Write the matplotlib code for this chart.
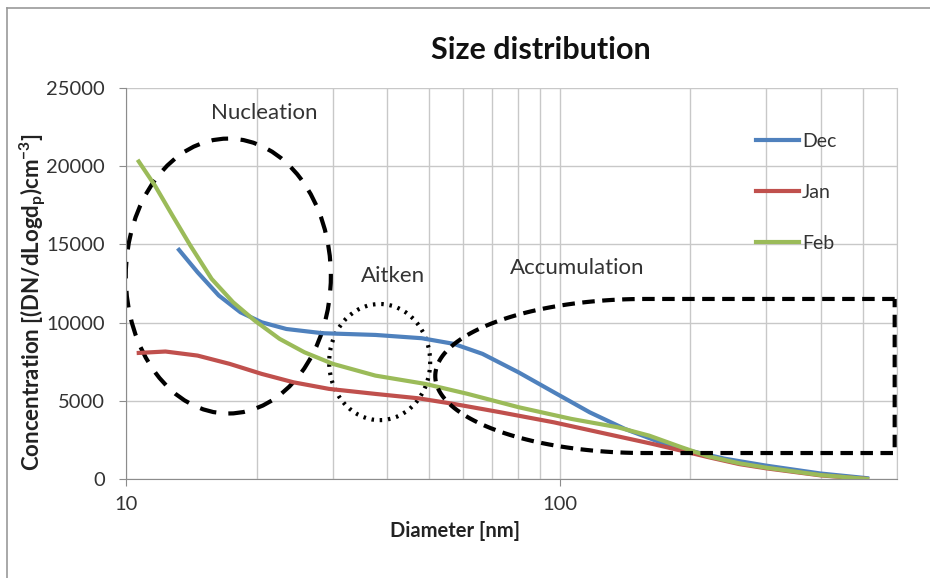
import matplotlib.pyplot as plt
import numpy as np
from matplotlib.patches import Ellipse
from matplotlib.lines import Line2D

plt.rcParams['font.family'] = ['Lato', 'DejaVu Sans']

# values (diameter in nm, concentration)
dec_d = [13.25, 14.62, 16.37, 18.36, 20.55, 23.44, 28.4, 37.6, 48.1, 57.0, 66.4, 80.4, 97.1,
         117.4, 141.5, 170.6, 200, 240, 300, 400, 512]
dec_c = [14650, 13220, 11730, 10660, 10020, 9590, 9320, 9210, 9000, 8640, 8000, 6820, 5540,
         4260, 3200, 2350, 1800, 1300, 850, 350, 50]

jan_d = [10.7, 12.33, 14.62, 17.34, 20.55, 24.35, 29.4, 37.6, 47.2, 57.0, 73.2, 97.1,
         128.5, 164, 191, 220, 260, 300, 400, 512]
jan_c = [8060, 8150, 7890, 7360, 6720, 6180, 5760, 5440, 5160, 4800, 4260, 3620,
         2880, 2240, 1810, 1400, 950, 680, 230, 0]

feb_d = [10.7, 11.66, 12.8, 14.07, 15.76, 17.66, 19.8, 22.6, 25.8, 30.0, 37.6, 49.0, 61.4,
         80.4, 106.5, 136, 161, 191, 220, 260, 300, 400, 512]
feb_c = [20300, 18760, 16840, 14930, 12790, 11300, 10130, 8960, 8100, 7360, 6610, 6080, 5440,
         4590, 3840, 3310, 2770, 2030, 1450, 1000, 720, 250, 0]

fig = plt.figure(figsize=(9.3, 5.78), dpi=100)
ax = fig.add_axes([0.1355, 0.1713, 0.829, 0.6765])

ax.plot(dec_d, dec_c, color='#4F81BD', lw=3, label='Dec')
ax.plot(jan_d, jan_c, color='#C0504D', lw=3, label='Jan')
ax.plot(feb_d, feb_c, color='#9BBB59', lw=3, label='Feb')

ax.set_xscale('log')
ax.set_xlim(10, 600)
ax.set_ylim(0, 25000)
ax.set_yticks(np.arange(0, 25001, 5000))
ax.set_xticks([10, 100])
ax.set_xticklabels(['10', '100'])
ax.xaxis.set_minor_formatter(plt.NullFormatter())
ax.grid(True, which='both', color='#C8C8C8', lw=1)
ax.set_axisbelow(True)
ax.spines['top'].set_visible(False)
ax.spines['right'].set_color('#C8C8C8')
ax.spines['left'].set_color('#8C8C8C')
ax.spines['bottom'].set_color('#8C8C8C')
ax.tick_params(axis='both', which='major', colors='#8C8C8C', labelcolor='#333333',
               labelsize=14.5, length=5, direction='out')
ax.tick_params(axis='x', which='minor', length=0)
ax.tick_params(axis='x', pad=7)
ax.tick_params(axis='y', pad=10)

ax.set_xlabel('Diameter [nm]', fontsize=14.5, fontweight='bold', color='#222222', va='center')
ax.xaxis.set_label_coords(0.427, -0.133)
ax.set_ylabel(r'Concentration [(DN/dLogd$_\mathregular{p}$)cm$^\mathregular{-3}$]',
              fontsize=16, fontweight='bold', color='#222222', va='center')
ax.yaxis.set_label_coords(-0.1206, 0.453)

fig.text(0.582, 0.913, 'Size distribution', fontsize=22, fontweight='bold',
         ha='center', va='center', color='#111111')

leg = ax.legend(loc='upper left', bbox_to_anchor=(0.795, 0.93), frameon=False,
                fontsize=14, handlelength=2.2, handletextpad=0.15, labelspacing=1.75)
for t in leg.get_texts():
    t.set_color('#333333')

# mode annotations (axes fraction coords)
ax.add_patch(Ellipse((0.1327, 0.519), 0.266, 0.703, transform=ax.transAxes, fill=False,
                     ec='black', lw=3, ls=(0, (4, 3))))
ax.add_patch(Ellipse((0.329, 0.299), 0.131, 0.297, transform=ax.transAxes, fill=False,
                     ec='black', lw=3, ls=(0, (0.6, 1.4))))

t = np.linspace(np.pi / 2, 3 * np.pi / 2, 100)
cx, cy, rx, ry = 0.6735, 0.2634, 0.2724, 0.197
ex = cx + rx * np.cos(t)
ey = cy + ry * np.sin(t)
px = np.concatenate([[0.997], ex, [0.997, 0.997]])
py = np.concatenate([[cy + ry], ey, [cy - ry, cy + ry]])
ax.add_line(Line2D(px, py, transform=ax.transAxes, color='black', lw=3,
                   ls=(0, (3, 1.8)), clip_on=False))

ax.text(0.179, 0.935, 'Nucleation', transform=ax.transAxes, fontsize=16,
        ha='center', va='center', color='#333333')
ax.text(0.346, 0.518, 'Aitken', transform=ax.transAxes, fontsize=16,
        ha='center', va='center', color='#333333')
ax.text(0.585, 0.540, 'Accumulation', transform=ax.transAxes, fontsize=16,
        ha='center', va='center', color='#333333')

# chart area border (top and left edges visible)
fig.add_artist(Line2D([7 / 930, 1], [1 - 7.5 / 578, 1 - 7.5 / 578], color='#999999', lw=1.2))
fig.add_artist(Line2D([7 / 930, 7 / 930], [0, 1 - 7.5 / 578], color='#999999', lw=1.2))

fig.savefig('out.png', dpi=100)
